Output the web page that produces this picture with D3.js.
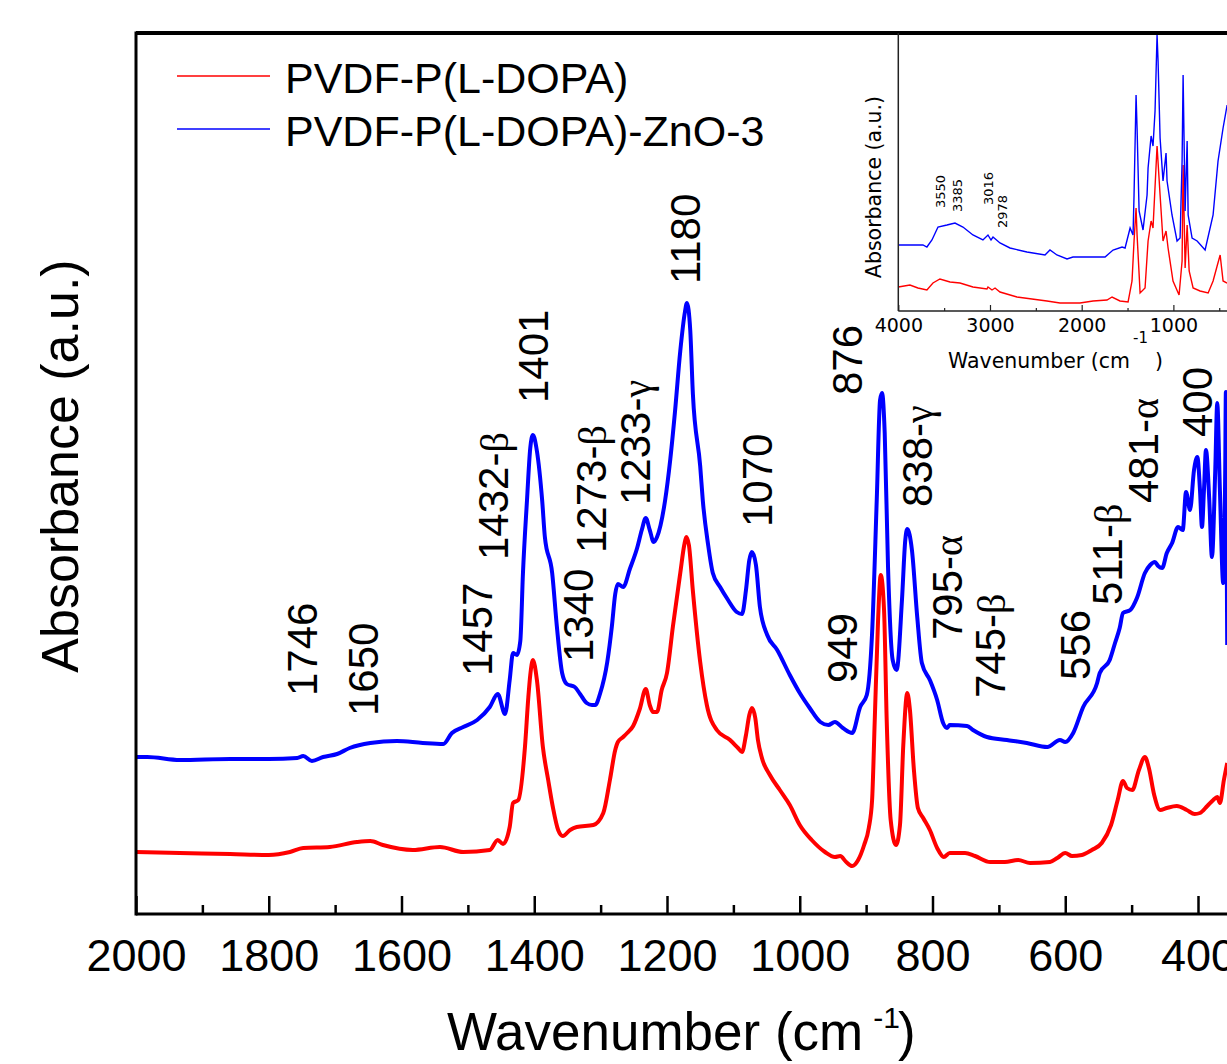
<!DOCTYPE html>
<html>
<head>
<meta charset="utf-8">
<script src="https://cdn.jsdelivr.net/npm/d3@7"></script>
<style>
  body { margin: 0; background: #fff; }
  svg { display: block; }
  .main-text { font-family: "Liberation Sans", Arial, sans-serif; fill: #000; }
  .inset-text { font-family: "DejaVu Sans", Verdana, sans-serif; fill: #000; }
</style>
</head>
<body>
<div id="chart"></div>
<script>
// ---------- DATA ----------
// series names
var seriesNames = ["PVDF-P(L-DOPA)", "PVDF-P(L-DOPA)-ZnO-3"];
var seriesColors = ["#ff0000", "#0000ff"];

// main spectrum, [wavenumber cm-1, absorbance a.u.]
var redMain = [
  [2000,0.62],[1934,0.61],[1858,0.60],[1800,0.59],[1768,0.62],[1748,0.66],[1708,0.67],[1667,0.72],
  [1647,0.73],[1628,0.69],[1583,0.64],[1542,0.67],[1507,0.62],[1467,0.64],[1455,0.74],[1447,0.70],
  [1437,0.87],[1432,1.11],[1424,1.14],[1414,1.67],[1409,2.16],[1406,2.39],[1402,2.54],[1396,2.34],
  [1387,1.67],[1379,1.34],[1372,1.07],[1364,0.84],[1357,0.78],[1346,0.84],[1336,0.87],[1311,0.89],
  [1296,1.01],[1286,1.34],[1278,1.64],[1274,1.72],[1266,1.77],[1260,1.81],[1251,1.88],[1241,2.05],
  [1232,2.25],[1226,2.09],[1221,2.02],[1215,2.02],[1208,2.24],[1200,2.41],[1191,2.88],[1180,3.41],
  [1174,3.69],[1171,3.77],[1167,3.69],[1161,3.23],[1150,2.52],[1140,2.09],[1125,1.84],[1105,1.74],
  [1093,1.66],[1087,1.62],[1081,1.79],[1076,1.99],[1072,2.06],[1067,1.96],[1063,1.74],[1057,1.56],
  [1045,1.39],[1030,1.24],[1015,1.09],[1000,0.89],[982,0.74],[962,0.62],[947,0.57],[939,0.58],
  [930,0.52],[921,0.48],[912,0.54],[903,0.69],[896,0.86],[891,1.14],[887,1.94],[882,2.94],
  [878,3.39],[873,3.04],[869,1.94],[863,0.94],[855,0.69],[849,0.89],[844,1.69],[838,2.21],
  [834,2.04],[828,1.44],[822,1.06],[814,0.96],[804,0.84],[793,0.66],[783,0.57],[774,0.61],
  [751,0.61],[736,0.58],[713,0.52],[691,0.52],[671,0.54],[653,0.51],[623,0.52],[612,0.56],
  [600,0.61],[590,0.58],[575,0.59],[560,0.64],[545,0.71],[531,0.89],[521,1.14],[513,1.33],
  [507,1.26],[499,1.24],[489,1.44],[480,1.57],[474,1.46],[466,1.19],[457,1.04],[447,1.06],
  [432,1.08],[417,1.04],[405,1.00],[397,1.01],[386,1.08],[377,1.14],[371,1.17],[367,1.11],
  [361,1.34],[356,1.51]
];

var blueMain = [
  [2000,1.57],[1983,1.57],[1934,1.54],[1858,1.55],[1800,1.55],[1757,1.56],[1748,1.58],[1735,1.53],
  [1718,1.57],[1697,1.60],[1678,1.66],[1647,1.71],[1607,1.73],[1568,1.71],[1537,1.70],[1524,1.81],
  [1507,1.87],[1486,1.94],[1467,2.07],[1455,2.20],[1444,2.00],[1437,2.34],[1432,2.61],[1426,2.59],
  [1421,2.73],[1417,3.41],[1411,4.13],[1406,4.66],[1402,4.79],[1396,4.63],[1388,4.13],[1384,3.77],
  [1373,3.41],[1366,2.88],[1358,2.41],[1351,2.30],[1339,2.27],[1331,2.20],[1321,2.11],[1313,2.09],
  [1308,2.09],[1301,2.20],[1290,2.52],[1283,2.88],[1278,3.20],[1274,3.30],[1266,3.27],[1256,3.45],
  [1245,3.66],[1238,3.84],[1232,3.96],[1226,3.84],[1220,3.72],[1215,3.77],[1203,4.13],[1195,4.55],
  [1188,5.02],[1180,5.63],[1173,6.02],[1170,6.11],[1165,5.84],[1161,5.20],[1150,4.48],[1146,4.13],
  [1138,3.69],[1131,3.41],[1120,3.27],[1108,3.14],[1095,3.02],[1087,3.00],[1081,3.24],[1076,3.54],
  [1072,3.62],[1066,3.49],[1060,3.07],[1049,2.79],[1034,2.64],[1015,2.39],[1000,2.21],[985,2.06],
  [969,1.92],[957,1.89],[947,1.92],[935,1.86],[921,1.81],[909,2.07],[899,2.19],[891,2.81],
  [884,4.14],[879,5.14],[876,5.21],[872,4.81],[867,3.47],[860,2.54],[854,2.44],[846,3.14],
  [841,3.74],[838,3.85],[831,3.64],[823,2.97],[816,2.51],[804,2.34],[793,2.14],[784,1.91],
  [778,1.86],[774,1.89],[748,1.88],[739,1.84],[718,1.77],[688,1.74],[658,1.71],[627,1.67],
  [608,1.74],[600,1.72],[588,1.81],[573,2.07],[552,2.31],[548,2.41],[533,2.54],[525,2.71],
  [518,2.86],[513,3.01],[502,3.04],[492,3.16],[480,3.41],[472,3.49],[465,3.52],[460,3.48],
  [454,3.46],[447,3.61],[439,3.71],[430,3.87],[423,3.84],[418,4.22],[412,4.04],[406,4.44],
  [401,4.57],[397,4.24],[394,3.87],[391,4.24],[388,4.64],[383,4.14],[379,3.57],[374,4.44],
  [371,5.11],[367,4.24],[362,3.31],[359,4.44],[358,5.22],[356,2.69]
];

// inset, full range spectrum
var redInset = [
  [4000,0.24],[3873,0.26],[3786,0.23],[3688,0.21],[3622,0.28],[3546,0.32],[3436,0.29],[3327,0.28],
  [3186,0.24],[3033,0.22],[3022,0.24],[2978,0.21],[2945,0.23],[2891,0.19],[2706,0.14],[2379,0.10],
  [2237,0.08],[2019,0.08],[1876,0.10],[1724,0.11],[1669,0.14],[1582,0.10],[1494,0.09],[1451,0.30],
  [1429,0.70],[1407,1.03],[1396,0.76],[1363,0.18],[1309,0.23],[1276,0.70],[1243,0.90],[1222,0.83],
  [1178,1.65],[1145,1.16],[1113,0.70],[1080,0.80],[1058,0.63],[1004,0.30],[938,0.16],[905,0.50],
  [894,1.46],[872,0.43],[850,0.86],[828,0.40],[785,0.23],[709,0.20],[621,0.18],[567,0.30],
  [523,0.45],[490,0.56],[458,0.30],[414,0.28]
];

var blueInset = [
  [4000,0.66],[3731,0.66],[3688,0.64],[3633,0.71],[3567,0.84],[3469,0.86],[3382,0.88],[3295,0.84],
  [3186,0.76],[3077,0.71],[3022,0.76],[2989,0.71],[2967,0.74],[2891,0.68],[2782,0.63],[2597,0.59],
  [2400,0.56],[2346,0.61],[2270,0.56],[2160,0.52],[2095,0.54],[1876,0.54],[1745,0.54],[1658,0.61],
  [1560,0.64],[1527,0.63],[1472,0.83],[1440,0.76],[1429,1.16],[1407,2.16],[1396,1.83],[1374,1.00],
  [1331,0.81],[1287,1.16],[1276,1.43],[1243,1.75],[1222,1.65],[1200,2.00],[1178,2.76],[1167,2.50],
  [1145,1.73],[1113,1.30],[1080,1.58],[1069,1.30],[1015,0.96],[960,0.70],[927,0.73],[905,1.50],
  [894,2.36],[872,1.00],[850,1.70],[839,0.96],[796,0.73],[741,0.70],[654,0.61],[567,0.96],
  [513,1.50],[458,1.83],[414,2.06]
];

// tick values
var mainMajorTicks = [2000, 1800, 1600, 1400, 1200, 1000, 800, 600, 400];
var mainMinorTicks = [1900, 1700, 1500, 1300, 1100, 900, 700, 500];
var insetMajorTicks = [4000, 3000, 2000, 1000];
var insetMinorTicks = [3500, 2500, 1500, 500];

// peak labels: [number, greek suffix, wavenumber, absorbance] (text start, reads upward)
var mainPeakLabels = [
  ["1746", "", 1727, 2.18], ["1650", "", 1635, 1.98], ["1457", "", 1464, 2.38],
  ["1432-", "\u03b2", 1440, 3.54], ["1401", "", 1379, 5.11], ["1340", "", 1312, 2.52],
  ["1273-", "\u03b2", 1292, 3.61], ["1233-", "\u03b3", 1226, 4.09], ["1180", "", 1150, 6.30],
  ["1070", "", 1042, 3.87], ["949", "", 914, 2.31], ["876", "", 906, 5.19],
  ["838-", "\u03b3", 801, 4.07], ["795-", "\u03b1", 756, 2.74], ["745-", "\u03b2", 691, 2.16],
  ["556", "", 563, 2.34], ["511-", "\u03b2", 515, 3.09], ["481-", "\u03b1", 460, 4.11],
  ["400", "", 379, 4.77]
];
var insetPeakLabels = [
  ["3550", 3495, 1.03], ["3385", 3310, 0.99], ["3016", 2965, 1.06], ["2978", 2810, 0.83]
];

// ---------- CHART ----------
var svgWidth = 1227;
var svgHeight = 1064;

var svg = d3.select("#chart")
  .append("svg")
  .attr("width", svgWidth)
  .attr("height", svgHeight);

// main plot area
var plot = { left: 136, top: 33, bottom: 914, x400: 1198 };

var xScale = d3.scaleLinear()
  .domain([2000, 400])
  .range([plot.left, plot.x400]);

var yScale = d3.scaleLinear()
  .domain([0, 8.81])
  .range([plot.bottom, plot.top]);

var mainLine = d3.line()
  .x(d => xScale(d[0]))
  .y(d => yScale(d[1]))
  .curve(d3.curveMonotoneX);

// curves (red below, blue on top)
[redMain, blueMain].forEach((series, i) => {
  svg.append("path")
    .datum(series)
    .attr("fill", "none")
    .attr("stroke", seriesColors[i])
    .attr("stroke-width", 4)
    .attr("stroke-linejoin", "round")
    .attr("d", mainLine);
});

// x axis: major ticks with labels, minor ticks without
var majorAxis = d3.axisBottom(xScale)
  .tickValues(mainMajorTicks)
  .tickSize(-18)
  .tickPadding(25)
  .tickFormat(d3.format("d"));

var minorAxis = d3.axisBottom(xScale)
  .tickValues(mainMinorTicks)
  .tickSize(-9)
  .tickFormat("");

var gMajor = svg.append("g")
  .attr("transform", `translate(0, ${plot.bottom})`)
  .call(majorAxis);
var gMinor = svg.append("g")
  .attr("transform", `translate(0, ${plot.bottom})`)
  .call(minorAxis);

[gMajor, gMinor].forEach(g => {
  g.select(".domain").remove();
  g.selectAll(".tick line").attr("stroke", "#000").attr("stroke-width", 2.5);
});
gMajor.selectAll(".tick text")
  .attr("class", "main-text")
  .style("font-family", "'Liberation Sans', Arial, sans-serif")
  .style("font-size", "45px");

// frame lines
svg.append("line")
  .attr("x1", plot.left).attr("x2", svgWidth)
  .attr("y1", plot.bottom).attr("y2", plot.bottom)
  .attr("stroke", "#000").attr("stroke-width", 3);
svg.append("line")
  .attr("x1", plot.left).attr("x2", plot.left)
  .attr("y1", plot.top - 1.5).attr("y2", plot.bottom + 1.5)
  .attr("stroke", "#000").attr("stroke-width", 3);
svg.append("line")
  .attr("x1", plot.left).attr("x2", svgWidth)
  .attr("y1", plot.top).attr("y2", plot.top)
  .attr("stroke", "#000").attr("stroke-width", 4);

// axis titles
var xTitle = svg.append("text")
  .attr("class", "main-text")
  .attr("x", 447)
  .attr("y", 1050)
  .style("font-size", "53px")
  .text("Wavenumber (cm");
xTitle.append("tspan")
  .attr("dy", -22)
  .attr("dx", 10)
  .style("font-size", "30px")
  .text("-1");
xTitle.append("tspan")
  .attr("dy", 22)
  .attr("dx", -2)
  .text(")");

svg.append("text")
  .attr("class", "main-text")
  .attr("transform", "translate(78, 466) rotate(-90)")
  .attr("text-anchor", "middle")
  .style("font-size", "52px")
  .text("Absorbance (a.u.)");

// legend
seriesNames.forEach((name, i) => {
  var ly = 76 + i * 53;
  svg.append("line")
    .attr("x1", 177).attr("x2", 270)
    .attr("y1", ly).attr("y2", ly)
    .attr("stroke", seriesColors[i])
    .attr("stroke-width", 1.6);
  svg.append("text")
    .attr("class", "main-text")
    .attr("x", 285)
    .attr("y", ly + 17)
    .style("font-size", "43px")
    .text(name);
});

// peak labels, rotated to read upward
mainPeakLabels.forEach(p => {
  var t = svg.append("text")
    .attr("class", "main-text")
    .attr("transform", `translate(${xScale(p[2])}, ${yScale(p[3])}) rotate(-90)`)
    .style("font-size", "42px")
    .text(p[0]);
  if (p[1]) {
    t.append("tspan")
      .style("font-family", "'Liberation Serif', 'Times New Roman', serif")
      .style("font-size", "40px")
      .text(p[1]);
  }
});

// ---------- INSET ----------
var inset = { left: 898.3, right: 1228.4, top: 33, bottom: 311 };

var xInset = d3.scaleLinear()
  .domain([4000, 400])
  .range([inset.left, inset.right]);

var yInset = d3.scaleLinear()
  .domain([0, 2.78])
  .range([inset.bottom, inset.top]);

var insetLine = d3.line()
  .x(d => xInset(d[0]))
  .y(d => yInset(d[1]));

var gInset = svg.append("g");

gInset.append("rect")
  .attr("x", inset.left).attr("y", inset.top + 2)
  .attr("width", inset.right - inset.left)
  .attr("height", inset.bottom - inset.top - 2)
  .attr("fill", "#fff");

[redInset, blueInset].forEach((series, i) => {
  gInset.append("path")
    .datum(series)
    .attr("fill", "none")
    .attr("stroke", seriesColors[i])
    .attr("stroke-width", 1.4)
    .attr("d", insetLine);
});

var insetMajor = d3.axisBottom(xInset)
  .tickValues(insetMajorTicks)
  .tickSize(-6)
  .tickPadding(8)
  .tickFormat(d3.format("d"));
var insetMinor = d3.axisBottom(xInset)
  .tickValues(insetMinorTicks)
  .tickSize(-3)
  .tickFormat("");

var giMajor = gInset.append("g")
  .attr("transform", `translate(0, ${inset.bottom})`)
  .call(insetMajor);
var giMinor = gInset.append("g")
  .attr("transform", `translate(0, ${inset.bottom})`)
  .call(insetMinor);
[giMajor, giMinor].forEach(g => {
  g.select(".domain").remove();
  g.selectAll(".tick line").attr("stroke", "#222").attr("stroke-width", 1.2);
});
giMajor.selectAll(".tick text")
  .style("font-family", "'DejaVu Sans', Verdana, sans-serif")
  .style("font-size", "19px")
  .attr("fill", "#000");

gInset.append("line")
  .attr("x1", inset.left).attr("x2", inset.right)
  .attr("y1", inset.bottom).attr("y2", inset.bottom)
  .attr("stroke", "#222").attr("stroke-width", 1.5);
gInset.append("line")
  .attr("x1", inset.left).attr("x2", inset.left)
  .attr("y1", inset.top).attr("y2", inset.bottom)
  .attr("stroke", "#222").attr("stroke-width", 1.5);

// inset titles
gInset.append("text")
  .attr("class", "inset-text")
  .attr("x", 948)
  .attr("y", 368)
  .style("font-size", "20.5px")
  .text("Wavenumber (cm");
gInset.append("text")
  .attr("class", "inset-text")
  .attr("x", 1133)
  .attr("y", 343)
  .style("font-size", "15px")
  .text("-1");
gInset.append("text")
  .attr("class", "inset-text")
  .attr("x", 1155)
  .attr("y", 368)
  .style("font-size", "20.5px")
  .text(")");

gInset.append("text")
  .attr("class", "inset-text")
  .attr("transform", "translate(881, 187) rotate(-90)")
  .attr("text-anchor", "middle")
  .style("font-size", "20.5px")
  .text("Absorbance (a.u.)");

insetPeakLabels.forEach(p => {
  gInset.append("text")
    .attr("class", "inset-text")
    .attr("transform", `translate(${xInset(p[1])}, ${yInset(p[2])}) rotate(-90)`)
    .style("font-size", "13px")
    .text(p[0]);
});
</script>
</body>
</html>
